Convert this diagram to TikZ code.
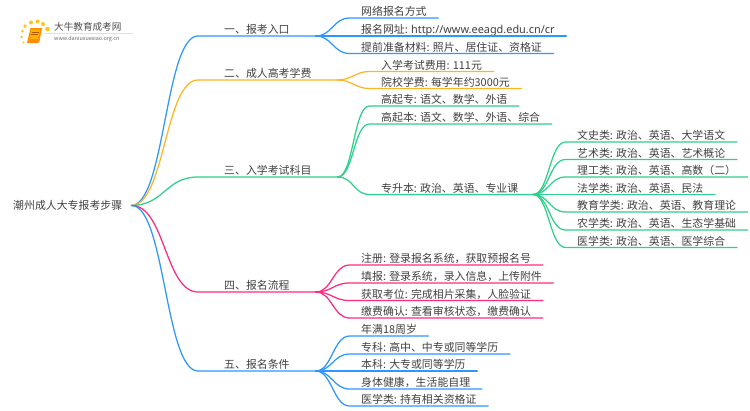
\documentclass[tikz,border=0pt]{standalone}
\usepackage{fontspec}
\setmainfont{Noto Sans CJK SC}
\newfontfamily\urlfont{Noto Sans}
\definecolor{lineblue}{HTML}{2E96FF}
\definecolor{lineorange}{HTML}{FFB422}
\definecolor{linegreen}{HTML}{2DD08C}
\definecolor{linepink}{HTML}{FF2A80}
\begin{document}
\begin{tikzpicture}[x=1pt,y=-1pt,
  txt/.style={font=\fontsize{10.9pt}{12pt}\selectfont,text=black!75,inner ysep=.6pt,text height=9.5pt,text depth=1.5pt},
  topic/.style={txt,anchor=south west,inner xsep=26pt},
  leaf/.style={txt,anchor=south west,inner xsep=11.5pt},
  line/.style={line width=1.25pt,line cap=round},
  blueline/.style={line,draw=lineblue},
  orangeline/.style={line,draw=lineorange},
  greenline/.style={line,draw=linegreen},
  pinkline/.style={line,draw=linepink}]
\useasboundingbox (0,0) rectangle (750,410);
%%% The logo
\fill[lineorange!80!yellow] (25,26) circle (1.8pt) (31,22.5) circle (2pt) (37.5,21.5) circle (2pt) (43,24) circle (2pt) (47.5,29) circle (2.3pt) (22.5,31) circle (1.5pt) (21.5,37) circle (1.3pt) (23.5,42.5) circle (1.1pt);
\fill[orange!90!yellow] (30.5,28) -- (42,28) -- (39.5,41) -- (38,43) -- (27,43) -- cycle;
\fill[orange!60!yellow] (31.5,29.5) -- (40,29.5) -- (38,39) -- (29.5,39) -- cycle;
\draw[orange!70!black,line width=.5pt] (31.5,32) -- (38.5,32) (31,34) -- (38,34);
\draw[black!12,line width=.6pt] (45,33.5) -- (133,33.5);
\node[font=\fontsize{9.6pt}{10pt}\selectfont,text=black!70,inner sep=0pt,anchor=west] (logotext) at (54,27) {大牛教育成考网};
\node[font=\fontsize{5.4pt}{6pt}\selectfont,text=black!60,inner sep=0pt,anchor=west] (logourl) at (54,39) {www.daniuxuexiao.org.cn};
%%% The root and the five topics
\node[txt,anchor=west,inner xsep=9pt] (root) at (4,205.5) {潮州成人大专报考步骤};
\node[topic] (t1) at (198,36) {一、报考入口};
\node[topic] (t2) at (198,80) {二、成人高考学费};
\node[topic] (t3) at (198,177) {三、入学考试科目};
\node[topic] (t4) at (198,292) {四、报名流程};
\node[topic] (t5) at (198,371) {五、报名条件};
\draw[blueline] (root.east) .. controls (165,205) and (165,36) .. (t1.south west) -- (t1.south east);
\draw[orangeline] (root.east) .. controls (165,205) and (165,80) .. (t2.south west) -- (t2.south east);
\draw[greenline] (root.east) .. controls (165,205) and (165,177) .. (t3.south west) -- (t3.south east);
\draw[pinkline] (root.east) .. controls (165,205) and (165,292) .. (t4.south west) -- (t4.south east);
\draw[blueline] (root.east) .. controls (165,205) and (165,371) .. (t5.south west) -- (t5.south east);
%%% First topic
\node[leaf] (a1) at (349.5,18) {网络报名方式};
\node[leaf] (a2) at (349.5,36) {报名网址: {\urlfont http://www.eeagd.edu.cn/cr}};
\node[leaf] (a3) at (349.5,53.5) {提前准备材料: 照片、居住证、资格证};
\draw[blueline] (t1.south east) .. controls +(16,0) and +(-16,0) .. (a1.south west) -- (a1.south east);
\draw[blueline] (t1.south east) .. controls +(16,0) and +(-16,0) .. (a2.south west) -- (a2.south east);
\draw[blueline] (t1.south east) .. controls +(16,0) and +(-16,0) .. (a3.south west) -- (a3.south east);
%%% Second topic
\node[leaf] (b1) at (369.5,71.5) {入学考试费用: 111元};
\node[leaf] (b2) at (369.5,88.5) {院校学费: 每学年约3000元};
\draw[orangeline] (t2.south east) .. controls +(14,0) and +(-14,0) .. (b1.south west) -- (b1.south east);
\draw[orangeline] (t2.south east) .. controls +(14,0) and +(-14,0) .. (b2.south west) -- (b2.south east);
%%% Third topic
\node[leaf] (c1) at (369.5,106) {高起专: 语文、数学、外语};
\node[leaf] (c2) at (369.5,124) {高起本: 语文、数学、外语、综合};
\node[leaf] (c3) at (369.5,194.5) {专升本: 政治、英语、专业课};
\coordinate (c3end) at (533,194.5);
\draw[greenline] (t3.south east) .. controls +(16,0) and +(-16,0) .. (c1.south west) -- (c1.south east);
\draw[greenline] (t3.south east) .. controls +(16,0) and +(-16,0) .. (c2.south west) -- (c2.south east);
\draw[greenline] (t3.south east) .. controls +(16,0) and +(-16,0) .. (c3.south west) -- (c3end);
%%% Below the third leaf
\node[leaf] (d1) at (565.5,142) {文史类: 政治、英语、大学语文};
\node[leaf] (d2) at (565.5,159.5) {艺术类: 政治、英语、艺术概论};
\node[leaf] (d3) at (565.5,177) {理工类: 政治、英语、高数（二）};
\node[leaf] (d4) at (565.5,194.5) {法学类: 政治、英语、民法};
\node[leaf] (d5) at (565.5,212) {教育学类: 政治、英语、教育理论};
\node[leaf] (d6) at (565.5,230) {农学类: 政治、英语、生态学基础};
\node[leaf] (d7) at (565.5,247.5) {医学类: 政治、英语、医学综合};
\draw[greenline] (c3end) .. controls +(16,0) and +(-16,0) .. (d1.south west) -- (d1.south east);
\draw[greenline] (c3end) .. controls +(16,0) and +(-16,0) .. (d2.south west) -- (d2.south east);
\draw[greenline] (c3end) .. controls +(16,0) and +(-16,0) .. (d3.south west) -- (d3.south east);
\draw[greenline] (c3end) .. controls +(16,0) and +(-16,0) .. (d4.south west) -- (d4.south east);
\draw[greenline] (c3end) .. controls +(16,0) and +(-16,0) .. (d5.south west) -- (d5.south east);
\draw[greenline] (c3end) .. controls +(16,0) and +(-16,0) .. (d6.south west) -- (d6.south east);
\draw[greenline] (c3end) .. controls +(16,0) and +(-16,0) .. (d7.south west) -- (d7.south east);
%%% Fourth topic
\node[leaf] (e1) at (349.5,265) {注册: 登录报名系统，获取预报名号};
\node[leaf] (e2) at (349.5,283) {填报: 登录系统，录入信息，上传附件};
\node[leaf] (e3) at (349.5,300.5) {获取考位: 完成相片采集，人脸验证};
\node[leaf] (e4) at (349.5,318) {缴费确认: 查看审核状态，缴费确认};
\draw[pinkline] (t4.south east) .. controls +(16,0) and +(-16,0) .. (e1.south west) -- (e1.south east);
\draw[pinkline] (t4.south east) .. controls +(16,0) and +(-16,0) .. (e2.south west) -- (e2.south east);
\draw[pinkline] (t4.south east) .. controls +(16,0) and +(-16,0) .. (e3.south west) -- (e3.south east);
\draw[pinkline] (t4.south east) .. controls +(16,0) and +(-16,0) .. (e4.south west) -- (e4.south east);
%%% Fifth topic
\node[leaf] (f1) at (349.5,336) {年满18周岁};
\node[leaf] (f2) at (349.5,354) {专科: 高中、中专或同等学历};
\node[leaf] (f3) at (349.5,371) {本科: 大专或同等学历};
\node[leaf] (f4) at (349.5,389) {身体健康，生活能自理};
\node[leaf] (f5) at (349.5,406) {医学类: 持有相关资格证};
\draw[blueline] (t5.south east) .. controls +(16,0) and +(-16,0) .. (f1.south west) -- (f1.south east);
\draw[blueline] (t5.south east) .. controls +(16,0) and +(-16,0) .. (f2.south west) -- (f2.south east);
\draw[blueline] (t5.south east) .. controls +(16,0) and +(-16,0) .. (f3.south west) -- (f3.south east);
\draw[blueline] (t5.south east) .. controls +(16,0) and +(-16,0) .. (f4.south west) -- (f4.south east);
\draw[blueline] (t5.south east) .. controls +(16,0) and +(-16,0) .. (f5.south west) -- (f5.south east);
\end{tikzpicture}
\end{document}
